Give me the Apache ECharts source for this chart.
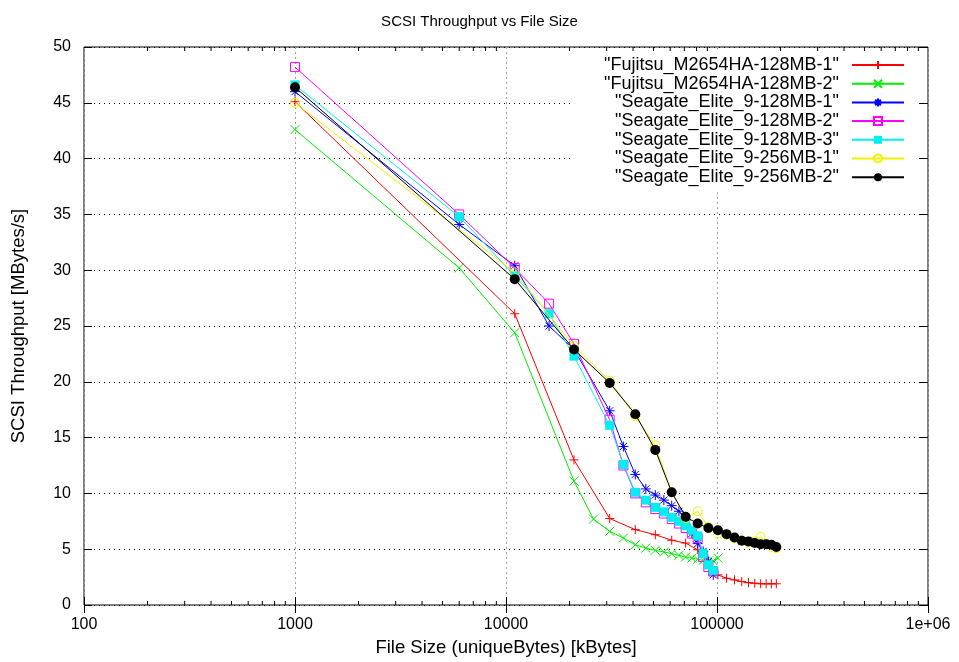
<!DOCTYPE html>
<html>
<head>
<meta charset="utf-8">
<script src="https://cdn.jsdelivr.net/npm/echarts@6/dist/echarts.min.js"></script>
<style>
html,body{margin:0;padding:0;background:#fff;}
#chart{width:959px;height:662px;}
</style>
</head>
<body>
<div id="chart"></div>
<script>
// ---- data ----
var seriesNames = [
  '"Fujitsu_M2654HA-128MB-1"',
  '"Fujitsu_M2654HA-128MB-2"',
  '"Seagate_Elite_9-128MB-1"',
  '"Seagate_Elite_9-128MB-2"',
  '"Seagate_Elite_9-128MB-3"',
  '"Seagate_Elite_9-256MB-1"',
  '"Seagate_Elite_9-256MB-2"'
];
var xFujitsu1 = [1000, 11000, 21000, 31000, 41000, 51000, 61000, 71000, 81000, 91000, 101000, 111000, 121000, 131000, 141000, 151000, 161000, 171000, 181000, 191000];
var yFujitsu1 = [45.1, 26.1, 13.0, 7.75, 6.75, 6.3, 5.8, 5.55, 4.95, 3.9, 2.7, 2.4, 2.25, 2.1, 2.0, 1.95, 1.9, 1.9, 1.9, 1.9];

var xFujitsu2 = [1000, 6000, 11000, 21000, 26000, 31000, 36000, 41000, 46000, 51000, 56000, 61000, 66000, 71000, 76000, 81000, 86000, 91000, 96000, 101000];
var yFujitsu2 = [42.6, 30.2, 24.4, 11.1, 7.7, 6.6, 6.0, 5.4, 5.1, 4.9, 4.75, 4.6, 4.45, 4.3, 4.2, 4.1, 4.0, 3.95, 3.95, 4.2];

var xSeagate128 = [1000, 6000, 11000, 16000, 21000, 31000, 36000, 41000, 46000, 51000, 56000, 61000, 66000, 71000, 76000, 81000, 86000, 91000, 96000];
var ySeagate128_1 = [46.0, 34.1, 30.4, 25.0, 22.9, 17.4, 14.2, 11.7, 10.4, 9.85, 9.4, 8.9, 8.4, 7.6, 6.4, 5.5, 4.8, 3.9, 2.7];
var ySeagate128_2 = [48.2, 35.0, 30.2, 27.0, 23.4, 16.6, 12.5, 10.0, 9.2, 8.6, 8.2, 7.7, 7.3, 6.9, 6.4, 6.0, 4.3, 3.4, 3.0];
var ySeagate128_3 = [46.6, 34.8, 29.5, 26.1, 22.3, 16.1, 12.6, 10.1, 9.4, 8.75, 8.35, 7.85, 7.5, 7.1, 6.7, 6.2, 4.6, 3.6, 3.1];

var xSeagate256 = [1000, 11000, 21000, 31000, 41000, 51000, 61000, 71000, 81000, 91000, 101000, 111000, 121000, 131000, 141000, 151000, 161000, 171000, 181000, 191000];
var ySeagate256_1 = [45.0, 29.8, 23.2, 20.1, 16.9, 14.3, 10.1, 7.8, 8.4, 7.0, 6.4, 6.3, 6.0, 5.8, 5.6, 5.7, 6.1, 5.5, 5.2, 5.1];
var ySeagate256_2 = [46.4, 29.2, 22.9, 19.9, 17.1, 13.9, 10.1, 7.9, 7.3, 6.9, 6.7, 6.35, 6.05, 5.75, 5.7, 5.55, 5.45, 5.45, 5.4, 5.2];

var xTickValues = [100, 1000, 10000, 100000, 1000000];
var xTickLabels = ['100', '1000', '10000', '100000', '1e+06'];
var yTicks = [0, 5, 10, 15, 20, 25, 30, 35, 40, 45, 50];

// ---- build ----
function pairs(xs, ys) { return xs.map(function (x, i) { return [x, ys[i]]; }); }
var FONT = 'Liberation Sans';
var colors = ['#ff0000', '#00ee00', '#0000ff', '#ff00ff', '#00f0f0', '#f0f000', '#000000'];
var symPlus = 'path://M0,5L10,5M5,0L5,10';
var symX = 'path://M0,0L10,10M10,0L0,10';
var symStar = 'path://M0,5L10,5M5,0L5,10M1.5,1.5L8.5,8.5M8.5,1.5L1.5,8.5';
var symSquare = 'path://M0,0L10,0L10,10L0,10Z';

var styles = [
  {symbol: symPlus, size: 9, fill: 'rgba(0,0,0,0)', stroke: true},
  {symbol: symX, size: 9, fill: 'rgba(0,0,0,0)', stroke: true},
  {symbol: symStar, size: 10, fill: 'rgba(0,0,0,0)', stroke: true},
  {symbol: symSquare, size: 9, fill: 'rgba(0,0,0,0)', stroke: true},
  {symbol: 'rect', size: 9, fill: null, stroke: false},
  {symbol: 'circle', size: 9, fill: 'rgba(0,0,0,0)', stroke: true},
  {symbol: 'circle', size: 10, fill: null, stroke: false}
];
var dataSets = [
  pairs(xFujitsu1, yFujitsu1),
  pairs(xFujitsu2, yFujitsu2),
  pairs(xSeagate128, ySeagate128_1),
  pairs(xSeagate128, ySeagate128_2),
  pairs(xSeagate128, ySeagate128_3),
  pairs(xSeagate256, ySeagate256_1),
  pairs(xSeagate256, ySeagate256_2)
];

var series = dataSets.map(function (d, i) {
  var st = styles[i];
  return {
    name: seriesNames[i],
    type: 'line',
    xAxisIndex: 0, yAxisIndex: 0,
    data: d,
    symbol: st.symbol,
    symbolSize: st.size,
    showSymbol: true,
    lineStyle: {color: colors[i], width: 1},
    itemStyle: {
      color: st.fill === null ? colors[i] : st.fill,
      borderColor: colors[i],
      borderWidth: st.stroke ? 1 : 0
    },
    emphasis: {disabled: true},
    animation: false,
    z: 3 + i
  };
});

// minor ticks for log axis (2..9 x 10^k), drawn through axis scale
var minorTickValues = [];
[100, 1000, 10000, 100000].forEach(function (d) {
  for (var m = 2; m <= 9; m++) minorTickValues.push(d * m);
});
series.push({
  type: 'custom',
  xAxisIndex: 0, yAxisIndex: 0,
  silent: true,
  animation: false,
  z: 10,
  data: minorTickValues.map(function (v) { return [v]; }),
  renderItem: function (params, api) {
    var v = api.value(0);
    var pb = api.coord([v, 0]);
    var pt = api.coord([v, 50]);
    return {
      type: 'group',
      children: [
        {type: 'line', shape: {x1: pb[0], y1: pb[1], x2: pb[0], y2: pb[1] - 4}, style: {stroke: '#000', lineWidth: 1}},
        {type: 'line', shape: {x1: pt[0], y1: pt[1], x2: pt[0], y2: pt[1] + 4}, style: {stroke: '#000', lineWidth: 1}}
      ]
    };
  }
});

var chart = echarts.init(document.getElementById('chart'), null, {renderer: 'canvas'});
chart.setOption({
  backgroundColor: '#fff',
  animation: false,
  title: {
    text: 'SCSI Throughput vs File Size',
    left: 'center', top: 9,
    textStyle: {fontFamily: FONT, fontSize: 15, fontWeight: 'normal', color: '#000'}
  },
  grid: {left: 84, right: 31, top: 47, bottom: 55, show: true, borderColor: '#000', borderWidth: 1, backgroundColor: 'transparent'},
  legend: {
    data: seriesNames,
    orient: 'vertical',
    right: 44, top: 50,
    align: 'right',
    itemWidth: 52, itemHeight: 10, itemGap: 0.7,
    padding: [6, 10, 6, 30],
    backgroundColor: '#fff',
    selectedMode: false,
    textStyle: {fontFamily: FONT, fontSize: 18, color: '#000', lineHeight: 18, padding: [0, 8, 0, 0]}
  },
  xAxis: [{
    type: 'log', logBase: 10, min: 100, max: 1000000,
    position: 'bottom',
    axisLine: {show: false},
    axisTick: {show: true, inside: true, length: 8, lineStyle: {color: '#000'}},
    axisLabel: {
      fontFamily: FONT, fontSize: 16, color: '#000', margin: 12,
      formatter: function (v) { var i = xTickValues.indexOf(Math.round(v)); return i >= 0 ? xTickLabels[i] : ''; }
    },
    splitLine: {show: true, lineStyle: {color: '#a0a0a0', type: [2, 3], width: 1}},
    name: 'File Size (uniqueBytes) [kBytes]',
    nameLocation: 'middle', nameGap: 33,
    nameTextStyle: {fontFamily: FONT, fontSize: 18.5, color: '#000'}
  }, {
    type: 'log', logBase: 10, min: 100, max: 1000000,
    position: 'top',
    axisLine: {show: false},
    axisTick: {show: true, inside: true, length: 8, lineStyle: {color: '#000'}},
    axisLabel: {show: false},
    splitLine: {show: false}
  }],
  yAxis: [{
    type: 'value', min: 0, max: 50, interval: 5,
    position: 'left',
    axisLine: {show: false},
    axisTick: {show: true, inside: true, length: 8, lineStyle: {color: '#000'}},
    axisLabel: {
      fontFamily: FONT, fontSize: 16, color: '#000', margin: 13,
      formatter: function (v) { return yTicks.indexOf(v) >= 0 ? String(v) : ''; }
    },
    splitLine: {show: true, lineStyle: {color: '#000', type: [1, 4], width: 1}},
    name: 'SCSI Throughput [MBytes/s]',
    nameLocation: 'middle', nameGap: 56, nameRotate: 90,
    nameTextStyle: {fontFamily: FONT, fontSize: 18.5, color: '#000'}
  }, {
    type: 'value', min: 0, max: 50, interval: 5,
    position: 'right',
    axisLine: {show: false},
    axisTick: {show: true, inside: true, length: 8, lineStyle: {color: '#000'}},
    axisLabel: {show: false},
    splitLine: {show: false}
  }],
  series: series
});
</script>
</body>
</html>
